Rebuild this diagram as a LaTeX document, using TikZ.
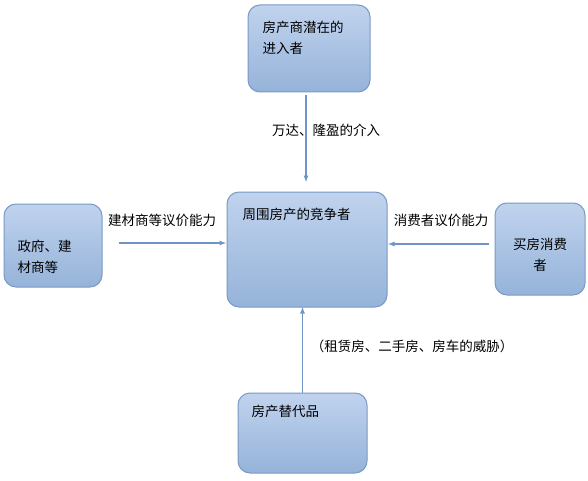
\documentclass[tikz,border=0pt]{standalone}
\usepackage{fontspec}
\setmainfont{Noto Sans CJK SC}
\usetikzlibrary{positioning,arrows.meta,backgrounds}
\definecolor{boxtop}{RGB}{192,211,238}
\definecolor{boxbot}{RGB}{149,179,217}
\definecolor{boxline}{RGB}{122,153,196}
\definecolor{flowc}{RGB}{112,148,198}
\tikzset{
  force/.style={rounded corners=12pt,draw=boxline,line width=1pt,top color=boxtop,bottom color=boxbot,inner sep=0pt},
  forcetext/.style={inner sep=0pt,align=left,font=\fontsize{13.5}{21}\selectfont},
  flow/.style={draw=flowc,line width=1.3pt,-{Latex[length=7pt,width=5pt]}},
  flowlabel/.style={inner sep=0pt,font=\fontsize{13.5}{16}\selectfont}
}
\begin{document}
\begin{tikzpicture}[x=1pt,y=-1pt]
  \useasboundingbox (0,0) rectangle (588,481);
  % the five forces
  \node[force,minimum width=122pt,minimum height=87pt] (entrant) at (309,48.5) {};
  \node[force,minimum width=160pt,minimum height=115pt] (rival) at (307,249.5) {};
  \node[force,minimum width=98pt,minimum height=83pt] (supplier) at (53,245.5) {};
  \node[force,minimum width=90pt,minimum height=92pt] (buyer) at (540,249) {};
  \node[force,minimum width=129pt,minimum height=80pt] (substitute) at (302.5,433) {};
  \node[forcetext,below right=16pt and 15pt of entrant.north west] (entranttext) {房产商潜在的\\进入者};
  \node[forcetext,below right=16pt and 16pt of rival.north west] (rivaltext) {周围房产的竞争者};
  \node[forcetext,below right=36pt and 14pt of supplier.north west] (suppliertext) {政府、建\\材商等};
  \node[forcetext,align=center,yshift=-6pt] (buyertext) at (buyer.center) {买房消费\\者};
  \node[forcetext,below right=12pt and 14pt of substitute.north west] (substitutetext) {房产替代品};
  % arrows and their labels
  \begin{scope}[on background layer]
    \draw[flow,shorten <=3pt,shorten >=9pt] ([xshift=-3pt]entrant.south) -- ([xshift=-3pt]entrant.south |- rival.north);
    \draw[flow,shorten <=-4pt,shorten >=-1pt] (substitute.north) -- (substitute.north |- rival.south);
    \draw[flow,shorten <=16pt] ([yshift=2.5pt]supplier.east) -- ([yshift=2.5pt]supplier.east -| rival.west);
    \draw[flow,shorten <=6pt] ([yshift=5pt]buyer.west) -- ([yshift=5pt]buyer.west -| rival.east);
  \end{scope}
  \node[flowlabel] (entrylab) at (326,130) {万达、隆盈的介入};
  \node[flowlabel] (supplierlab) at (162,220) {建材商等议价能力};
  \node[flowlabel] (buyerlab) at (441,220) {消费者议价能力};
  \node[flowlabel] (substitutelab) at (412,346) {（租赁房、二手房、房车的威胁）};
\end{tikzpicture}
\end{document}
